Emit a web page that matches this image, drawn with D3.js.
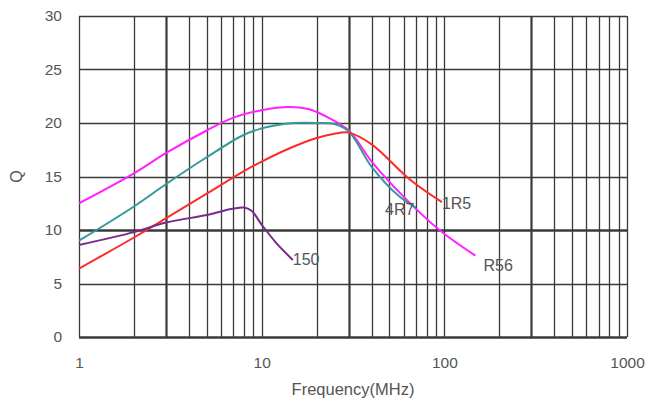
<!DOCTYPE html>
<html><head><meta charset="utf-8">
<script src="https://cdn.jsdelivr.net/npm/d3@7"></script>
<style>body{margin:0;background:#fff}svg{display:block}</style>
</head><body>
<svg id="c" width="660" height="398"></svg>
<script>
const xTicks = [1, 10, 100, 1000];
const yTicks = [0, 5, 10, 15, 20, 25, 30];
const seriesNames = ["R56", "4R7", "1R5", "150"];
const r56Freq = [1, 2, 3, 5, 7, 10, 14, 18, 22, 30, 40, 60, 94, 148];
const r56Q    = [12.5, 15.3, 17.2, 19.3, 20.5, 21.2, 21.5, 21.3, 20.7, 19.3, 16.4, 13.1, 10.0, 7.6];
const r47Freq = [1, 2, 3, 5, 8, 10, 12, 15, 20, 25, 30, 40, 57, 70];
const r47Q    = [9.0, 12.2, 14.3, 16.8, 18.9, 19.5, 19.8, 20.0, 20.0, 19.9, 19.2, 15.9, 13.1, 12.1];
const r15Freq = [1, 2, 3, 5, 8, 10, 15, 20, 25, 30, 40, 65, 97];
const r15Q    = [6.4, 9.3, 11.1, 13.4, 15.5, 16.4, 17.8, 18.6, 19.0, 19.1, 18.0, 14.7, 12.6];
const s150Freq = [1, 2, 3, 5, 7, 8, 8.8, 10, 12, 14.8];
const s150Q    = [8.6, 9.8, 10.7, 11.4, 12.0, 12.1, 11.8, 10.5, 8.8, 7.2];

const colors = {"R56": "#ff22ff", "4R7": "#34999a", "1R5": "#ff2a2a", "150": "#7a2a8c"};
const labelOffsets = {"R56": [8, 10], "4R7": [-31, 2], "1R5": [0, 1], "150": [0, -1]};

const series = [
  {name: "R56", f: r56Freq, q: r56Q},
  {name: "4R7", f: r47Freq, q: r47Q},
  {name: "1R5", f: r15Freq, q: r15Q},
  {name: "150", f: s150Freq, q: s150Q}
];

const FONT = "Liberation Sans, Arial, sans-serif";
const svg = d3.select("#c");
const L = 79, R = 627, T = 16, B = 337;
const x = d3.scaleLog().domain([1, 1000]).range([L, R]);
const y = d3.scaleLinear().domain([0, 30]).range([B, T]);

// vertical grid (log minor lines)
const vlines = [];
for (let d = 1; d < 1000; d *= 10) for (let k = 1; k <= 10; k++) vlines.push(d * k);
const uniqV = Array.from(new Set(vlines.map(v => +v.toPrecision(6))));
svg.append("g").selectAll("line").data(uniqV).join("line")
  .attr("x1", d => Math.round(x(d)) + 0.5).attr("x2", d => Math.round(x(d)) + 0.5)
  .attr("y1", T).attr("y2", B)
  .attr("stroke", "#3a3a3a")
  .attr("stroke-width", d => {
    const m = d / Math.pow(10, Math.floor(Math.log10(d) + 1e-9));
    return Math.abs(m - 3) < 1e-6 ? 2.2 : 1.3;
  });

// horizontal grid
svg.append("g").selectAll("line").data(yTicks).join("line")
  .attr("x1", L).attr("x2", R)
  .attr("y1", d => Math.round(y(d)) + 0.5).attr("y2", d => Math.round(y(d)) + 0.5)
  .attr("stroke", "#3a3a3a")
  .attr("stroke-width", d => (d === 0 || d === 10) ? 2.4 : 1.3);

// axes labels via d3 axes
const xAxis = d3.axisBottom(x).tickValues(xTicks).tickFormat(d3.format("d")).tickSize(0).tickPadding(0);
const gx = svg.append("g").attr("transform", `translate(0,${B + 26})`).call(xAxis);
gx.select(".domain").remove();
gx.selectAll("text").attr("font-family", FONT).attr("font-size", 15.5).attr("fill", "#555").attr("dy", "0.35em").attr("y", 0);

const yAxis = d3.axisLeft(y).tickValues(yTicks).tickSize(0).tickPadding(17);
const gy = svg.append("g").attr("transform", `translate(${L},0)`).call(yAxis);
gy.select(".domain").remove();
gy.selectAll("text").attr("font-family", FONT).attr("font-size", 15.5).attr("fill", "#555");

svg.append("text").attr("x", 353).attr("y", 395).attr("text-anchor", "middle")
  .attr("font-family", FONT).attr("font-size", 16.5).attr("fill", "#555")
  .text("Frequency(MHz)");
svg.append("text").attr("transform", `translate(22,${(T + B) / 2}) rotate(-90)`).attr("text-anchor", "middle")
  .attr("font-family", FONT).attr("font-size", 16).attr("fill", "#555")
  .text("Q");

// curves
const line = d3.line().x(d => x(d[0])).y(d => y(d[1])).curve(d3.curveCatmullRom.alpha(0.5));
series.forEach(s => {
  const pts = s.f.map((f, i) => [f, s.q[i]]);
  svg.append("path").attr("d", line(pts)).attr("fill", "none")
    .attr("stroke", colors[s.name]).attr("stroke-width", 2).attr("stroke-linejoin", "round");
});
series.forEach(s => {
  const n = s.f.length - 1;
  const off = labelOffsets[s.name];
  svg.append("text").attr("x", x(s.f[n]) + off[0]).attr("y", y(s.q[n]) + off[1])
    .attr("dy", "0.35em")
    .attr("font-family", FONT).attr("font-size", 16).attr("fill", "#555")
    .text(s.name);
});
</script>
</body></html>
